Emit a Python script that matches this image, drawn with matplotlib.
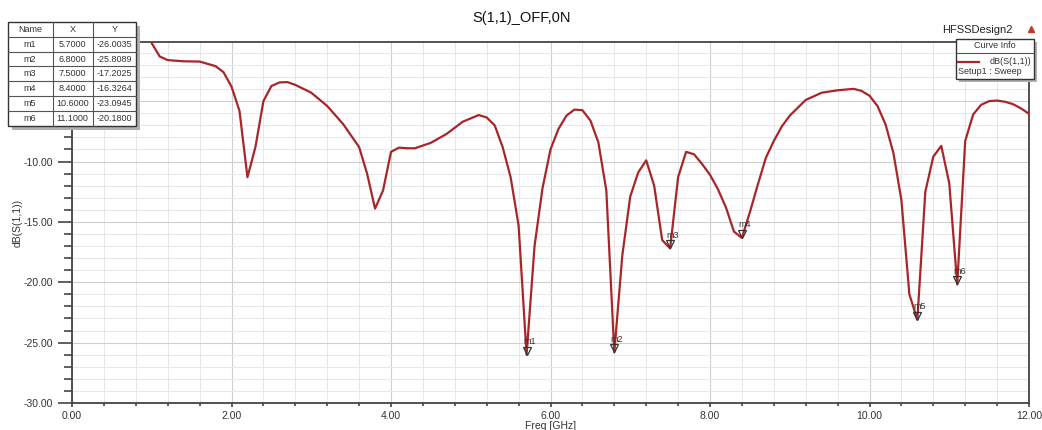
import matplotlib
matplotlib.use('Agg')
import matplotlib.pyplot as plt
from matplotlib.patches import Rectangle
from matplotlib.transforms import offset_copy
from matplotlib.ticker import MultipleLocator, FormatStrFormatter, FuncFormatter

plt.rcParams['font.family'] = ['Liberation Sans', 'DejaVu Sans']

# S11 sweep
freq = [1.0, 1.1, 1.2, 1.4, 1.6, 1.8, 1.9, 2.0, 2.1, 2.2, 2.3, 2.4, 2.5, 2.6, 2.7, 2.8,
        3.0, 3.2, 3.4, 3.6, 3.7, 3.8, 3.9, 4.0, 4.1, 4.2, 4.3, 4.5, 4.7, 4.9, 5.1, 5.2,
        5.3, 5.4, 5.5, 5.6, 5.7, 5.8, 5.9, 6.0, 6.1, 6.2, 6.3, 6.4, 6.5, 6.6, 6.7, 6.8,
        6.9, 7.0, 7.1, 7.2, 7.3, 7.4, 7.5, 7.6, 7.7, 7.8, 7.9, 8.0, 8.1, 8.2, 8.3, 8.4,
        8.5, 8.6, 8.7, 8.8, 8.9, 9.0, 9.2, 9.4, 9.6, 9.8, 9.9, 10.0, 10.1, 10.2, 10.3,
        10.4, 10.5, 10.6, 10.7, 10.8, 10.9, 11.0, 11.1, 11.2, 11.3, 11.4, 11.5, 11.6,
        11.7, 11.8, 11.9, 12.0]
s11 = [-0.2, -1.3, -1.6, -1.7, -1.72, -2.1, -2.6, -3.8, -5.8, -11.3, -8.8, -5.0, -3.75,
       -3.45, -3.42, -3.65, -4.3, -5.4, -6.9, -8.8, -11.0, -13.9, -12.4, -9.2, -8.85,
       -8.9, -8.9, -8.45, -7.7, -6.7, -6.15, -6.35, -7.0, -8.8, -11.3, -15.3, -26.0035,
       -17.0, -12.2, -9.0, -7.3, -6.2, -5.7, -5.75, -6.6, -8.4, -12.4, -25.8089, -17.8,
       -12.9, -10.9, -9.9, -12.0, -16.5, -17.2025, -11.3, -9.2, -9.4, -10.2, -11.1,
       -12.3, -13.8, -15.8, -16.3264, -14.2, -11.9, -9.7, -8.3, -7.1, -6.2, -4.9, -4.3,
       -4.1, -3.98, -4.15, -4.55, -5.4, -6.9, -9.3, -13.2, -21.0, -23.0945, -12.5, -9.6,
       -8.7, -11.8, -20.18, -8.3, -6.1, -5.3, -5.0, -4.95, -5.05, -5.25, -5.6, -6.05]

marker_names = ['m1', 'm2', 'm3', 'm4', 'm5', 'm6']
marker_x = [5.7, 6.8, 7.5, 8.4, 10.6, 11.1]
marker_y = [-26.0035, -25.8089, -17.2025, -16.3264, -23.0945, -20.1800]

line_color = '#a8262a'
txt_color = '#333333'

W, H = 1042, 430
fig = plt.figure(figsize=(W / 100, H / 100), dpi=100)
ax = fig.add_axes([72 / W, 1 - 403 / H, (1029 - 72) / W, (403 - 42) / H])

ax.plot(freq, s11, color=line_color, lw=1.6, zorder=3)

# marker triangles with the tip on the point
tr = offset_copy(ax.transData, fig=fig, x=0, y=4, units='dots')
ax.plot(marker_x, marker_y, 'v', ms=6, mfc='none', mec='#333333', mew=0.9,
        transform=tr, zorder=4, clip_on=False)
for n, mx, my in zip(marker_names, marker_x, marker_y):
    ax.annotate(n, (mx, my), xytext=(-2.5, 9.5), textcoords='offset points',
                ha='left', va='center', fontsize=6.5, color=txt_color, zorder=5)

ax.set_xlim(0, 12)
ax.set_ylim(-30, -0.1)
ax.xaxis.set_major_locator(MultipleLocator(2))
ax.xaxis.set_minor_locator(MultipleLocator(0.4))
ax.yaxis.set_major_locator(MultipleLocator(5))
ax.yaxis.set_minor_locator(MultipleLocator(1))
ax.xaxis.set_major_formatter(FormatStrFormatter('%.2f'))
# the -5.00 label sits under the marker table in the original
ax.yaxis.set_major_formatter(FuncFormatter(lambda v, p: '%.2f' % v if v <= -10 else ''))

ax.grid(which='major', color='#cfcfcf', lw=0.8)
ax.grid(which='minor', color='#e8e8e8', lw=0.7)
ax.set_axisbelow(True)

for s in ax.spines.values():
    s.set_color('#444444')
    s.set_linewidth(1.3)
ax.tick_params(axis='y', which='major', length=10, width=1.2, color='#444444',
               labelsize=7.5, labelcolor=txt_color, pad=4)
ax.tick_params(axis='y', which='minor', length=5.5, width=1.2, color='#444444')
ax.tick_params(axis='x', which='major', length=3, width=1.2, color='#444444',
               labelsize=7.5, labelcolor=txt_color, pad=3)
ax.tick_params(axis='x', which='minor', length=2.5, width=1.2, color='#444444')

ax.set_xlabel('Freq [GHz]', fontsize=7.5, color=txt_color, labelpad=0)
ax.set_ylabel('dB(S(1,1))', fontsize=7.5, color=txt_color, labelpad=0)

# overlay in pixel coordinates for title, marker table and curve info box
ov = fig.add_axes([0, 0, 1, 1], zorder=10)
ov.set_xlim(0, W)
ov.set_ylim(H, 0)
ov.axis('off')
ov.patch.set_visible(False)

ov.text(522, 18, 'S(1,1)_OFF,0N', ha='center', va='center', fontsize=10.5, color='#111111')

# marker table
col_edges = [7.5, 52.5, 92.5, 136]
row_h = 14.8
top = 22
nrows = len(marker_names) + 1
ov.add_patch(Rectangle((col_edges[0] + 4, top + 4), col_edges[-1] - col_edges[0],
                       nrows * row_h, facecolor='#b0b0b0', edgecolor='none'))
ov.add_patch(Rectangle((col_edges[0], top), col_edges[-1] - col_edges[0],
                       nrows * row_h, facecolor='white', edgecolor='#333333', lw=1.0))
for i in range(1, nrows):
    ov.plot([col_edges[0], col_edges[-1]], [top + i * row_h] * 2, color='#555555', lw=0.8)
for c in col_edges[1:-1]:
    ov.plot([c, c], [top, top + nrows * row_h], color='#555555', lw=0.8)
rows = [['Name', 'X', 'Y']] + [[n, '%.4f' % x, '%.4f' % y]
                               for n, x, y in zip(marker_names, marker_x, marker_y)]
for i, r in enumerate(rows):
    for j, t in enumerate(r):
        cx = (col_edges[j] + col_edges[j + 1]) / 2
        ov.text(cx, top + (i + 0.5) * row_h, t, ha='center', va='center',
                fontsize=6.5, color=txt_color)

# curve info box
ov.text(1013, 30, 'HFSSDesign2', ha='right', va='center', fontsize=8, color='#222222')
ov.plot([1031], [29], marker='^', ms=5, color='#c0392b', ls='none')
ov.add_patch(Rectangle((959, 42), 78, 40, facecolor='#b0b0b0', edgecolor='none'))
ov.add_patch(Rectangle((956, 39), 78, 40, facecolor='white', edgecolor='#333333', lw=1.0))
ov.plot([956, 1034], [53, 53], color='#555555', lw=0.8)
ov.text(995, 46, 'Curve Info', ha='center', va='center', fontsize=6.5, color=txt_color)
ov.plot([958, 979], [62, 62], color=line_color, lw=1.6)
ov.text(1031, 62, 'dB(S(1,1))', ha='right', va='center', fontsize=6.5, color=txt_color)
ov.text(958, 72, 'Setup1 : Sweep', ha='left', va='center', fontsize=6.5, color=txt_color)

fig.savefig('out.png', dpi=100)
